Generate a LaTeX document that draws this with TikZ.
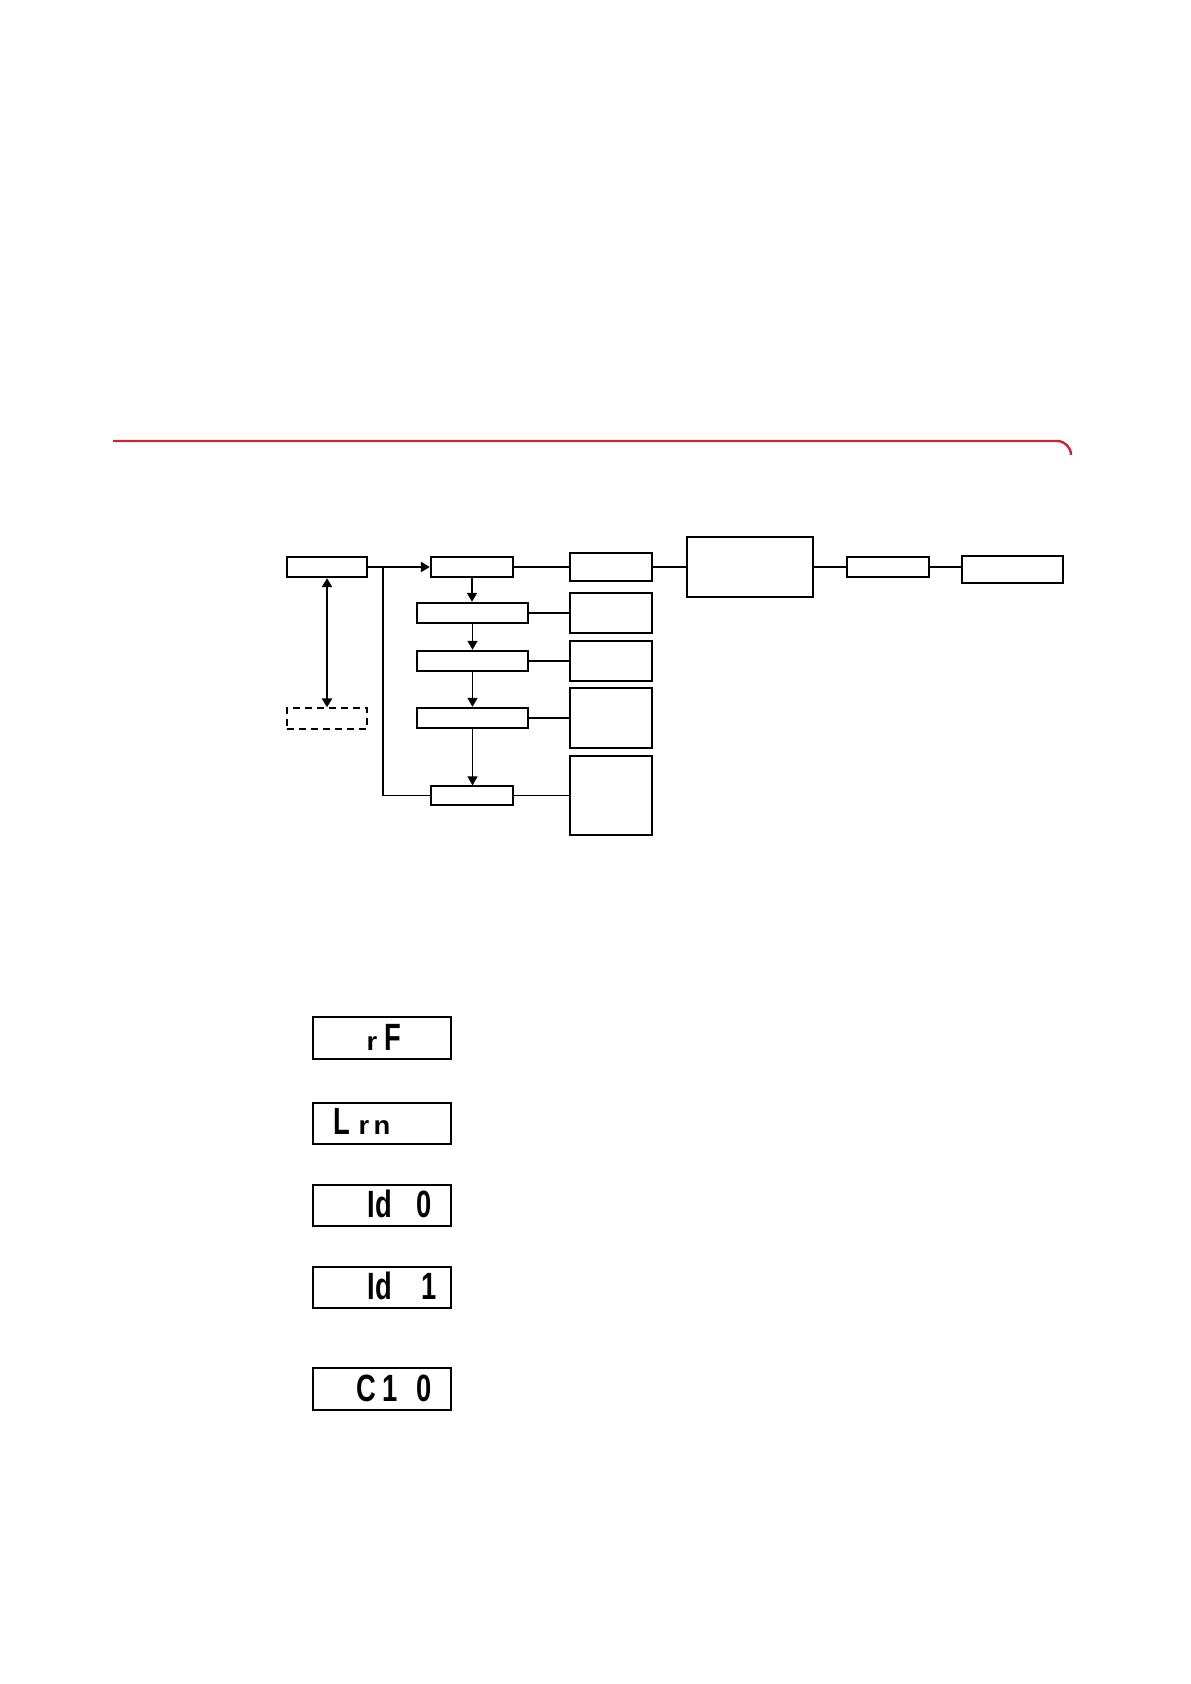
\documentclass[tikz,border=0pt]{standalone}
\usepackage{fontspec}
\usepackage{graphicx}
\usetikzlibrary{arrows.meta}
\newfontfamily\lcdfont{Liberation Sans}
\definecolor{redline}{RGB}{200,36,50}
\newcommand\bx[6]{\node[#6, minimum width={(#4-#2)*0.5pt}, minimum height={(#5-#3)*0.5pt}] (#1) at ({(#2+#4)/2},{(#3+#5)/2}) {};}
\newcommand\lcdup[1]{\scalebox{0.72}[1]{#1}}
\newcommand\lcdlow[1]{\scalebox{0.72}[0.68]{#1}}
\begin{document}
\begin{tikzpicture}[x=0.5pt,y=-0.5pt,
  thickbox/.style={draw, line width=1.2pt, inner sep=0pt},
  thinbox/.style={draw, line width=0.6pt, inner sep=0pt},
  dashbox/.style={draw, line width=0.6pt, dash pattern=on 3.5pt off 2.5pt, inner sep=0pt},
  lcdbox/.style={draw, line width=0.9pt, inner sep=0pt},
  thickline/.style={line width=1.2pt},
  thinline/.style={line width=0.6pt},
  midarrow/.style={line width=0.8pt, -{Triangle[length=4.5pt,width=5pt]}},
  thinarrow/.style={line width=0.6pt, -{Triangle[length=4.5pt,width=5pt]}},
  bigarrow/.style={line width=1.2pt, -{Triangle[length=4.5pt,width=5pt]}},
  dblarrow/.style={line width=1.3pt, {Triangle[length=4.5pt,width=5pt]}-{Triangle[length=4.5pt,width=5pt]}},
  lcdchar/.style={font=\lcdfont\bfseries\fontsize{19}{19}\selectfont, inner sep=0pt, anchor=base}]
\useasboundingbox (0,0) rectangle (1190,1684);

% red header rule
\coordinate (r1) at (113,441);
\coordinate (r2) at (1071,441);
\coordinate (r3) at (1071,455);
\draw[redline, line width=1.2pt, rounded corners=7pt] (r1) -- (r2) -- (r3);

% boxes
\bx{A}{287}{557}{367}{577}{thickbox}
\bx{B}{431}{557}{513}{577}{thickbox}
\bx{C1}{570}{553}{652}{581}{thickbox}
\bx{Big}{687}{537}{813}{597}{thickbox}
\bx{J}{847}{557}{929}{577}{thickbox}
\bx{K}{962}{556}{1063}{583}{thickbox}
\bx{D}{417}{603}{528}{623}{thickbox}
\bx{C2}{570}{593}{652}{633}{thickbox}
\bx{E}{417}{651}{528}{671}{thickbox}
\bx{C3}{570}{641}{652}{681}{thickbox}
\bx{G}{417}{708}{528}{728}{thickbox}
\bx{C4}{570}{688}{652}{748}{thickbox}
\bx{F}{431}{786}{513}{805}{thinbox}
\bx{C5}{570}{756}{652}{835}{thickbox}
\bx{H}{287}{708}{367}{729}{dashbox}

% connectors
\draw[bigarrow] (A) -- (B);
\coordinate (j0) at (383,567);
\draw[thinline] (j0) |- (F.west);
\draw[thickline] (B.east) -- (B.east -| C1.west);
\draw[thickline] (C1.east) -- (C1.east -| Big.west);
\draw[thickline] (Big.east) -- (Big.east -| J.west);
\draw[thickline] (J.east) -- (J.east -| K.west);
\draw[midarrow] (B.south) -- (B.south |- D.north);
\draw[thickline] (D.east) -- (D.east -| C2.west);
\draw[midarrow] (D.south) -- (D.south |- E.north);
\draw[thinline] (E.east) -- (E.east -| C3.west);
\draw[midarrow] (E.south) -- (E.south |- G.north);
\draw[thinline] (G.east) -- (G.east -| C4.west);
\draw[thinarrow] (G.south) -- (G.south |- F.north);
\draw[thinline] (F.east) -- (F.east -| C5.west);
\draw[dblarrow] (A.south) -- (A.south |- H.north);

% LCD displays
\bx{L1}{313}{1017}{451}{1059}{lcdbox}
\bx{L2}{313}{1103}{451}{1144}{lcdbox}
\bx{L3}{313}{1185}{451}{1226}{lcdbox}
\bx{L4}{313}{1267}{451}{1308}{lcdbox}
\bx{L5}{313}{1368}{451}{1410}{lcdbox}

\node[lcdchar] (l1a) at (372,1050) {\lcdlow{r}};
\node[lcdchar] (l1b) at (393,1050) {\lcdup{F}};
\node[lcdchar] (l2a) at (342,1134) {\lcdup{L}};
\node[lcdchar] (l2b) at (364,1134) {\lcdlow{r}};
\node[lcdchar] (l2c) at (382,1134) {\lcdlow{n}};
\node[lcdchar] (l3a) at (371,1217) {\lcdup{I}};
\node[lcdchar] (l3b) at (384,1217) {\lcdup{d}};
\node[lcdchar] (l3c) at (424,1217) {\lcdup{0}};
\node[lcdchar] (l4a) at (371,1299) {\lcdup{I}};
\node[lcdchar] (l4b) at (384,1299) {\lcdup{d}};
\node[lcdchar] (l4c) at (429,1299) {\lcdup{1}};
\node[lcdchar] (l5a) at (366,1401) {\lcdup{C}};
\node[lcdchar] (l5b) at (390,1401) {\lcdup{1}};
\node[lcdchar] (l5c) at (424,1401) {\lcdup{0}};
\end{tikzpicture}
\end{document}
